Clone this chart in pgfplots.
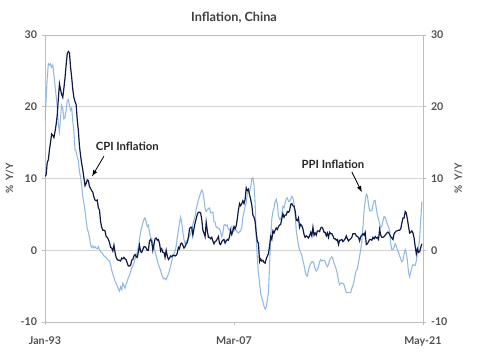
\documentclass[border=0pt]{standalone}
\usepackage{pgfplots}
\usepackage{pgfplotstable}
\pgfplotsset{compat=1.18}
\usepackage{fontspec}
\setmainfont{Lato}
\definecolor{cpicol}{RGB}{16,26,72}
\definecolor{ppicol}{RGB}{145,185,226}
\definecolor{gridgray}{RGB}{210,210,210}
\definecolor{axgray}{RGB}{190,190,190}
\definecolor{labgray}{RGB}{80,80,80}
\definecolor{titgray}{RGB}{64,64,64}

% monthly values from Jan-93; columns: CPI, PPI (% Y/Y)
\pgfplotstableread{
cpi ppi
10.3 18.0
10.5 21.0
12.2 24.0
12.6 26.0
14.0 25.8
15.1 26.0
16.2 25.5
16.0 25.8
15.7 24.5
16.5 23.0
17.5 21.5
18.8 20.0
21.1 17.5
23.2 16.5
22.4 18.5
21.7 20.2
21.3 19.8
22.6 18.3
24.0 18.5
25.8 19.5
27.4 20.8
27.7 21.0
27.5 20.2
25.5 19.5
24.1 19.8
22.4 18.0
21.3 16.5
20.7 14.0
20.3 13.8
18.2 13.0
16.7 12.5
14.5 11.0
13.2 10.2
12.1 9.0
11.2 7.5
10.1 6.5
9.0 5.5
9.3 4.2
9.8 3.0
9.7 2.5
8.9 1.8
8.6 0.8
8.3 0.4
8.1 0.6
7.4 0.3
7.0 0.5
6.9 0.3
7.0 0.2
5.9 0.5
5.6 0.1
4.0 -0.2
3.2 -0.3
2.8 -0.5
2.8 -0.8
2.7 -0.9
1.9 -1.0
1.8 -1.2
1.5 -1.4
1.1 -1.5
0.4 -2.0
0.3 -2.8
-0.1 -3.3
0.7 -3.8
-0.3 -4.3
-1.0 -4.6
-1.3 -5.0
-1.4 -5.4
-1.4 -5.7
-1.5 -5.1
-1.1 -5.5
-1.2 -4.6
-1.0 -4.9
-1.2 -5.3
-1.3 -4.7
-1.8 -4.3
-2.2 -3.8
-2.2 -3.5
-2.1 -3.0
-1.4 -2.5
-1.3 -2.2
-0.8 -1.8
-0.6 -1.2
-0.9 -0.8
-1.0 -0.3
-0.2 0.5
0.7 1.5
-0.2 2.5
-0.3 3.2
0.1 3.8
0.5 4.3
0.5 4.5
0.3 4.0
0.0 3.3
0.0 3.5
1.3 2.5
1.5 1.8
1.2 1.6
0.0 1.0
0.8 0.5
1.6 -0.2
1.7 -0.8
1.4 -1.4
1.5 -2.0
1.0 -2.4
-0.1 -2.8
0.2 -3.4
-0.3 -3.8
-0.3 -4.0
-1.0 -3.9
0.0 -4.1
-0.8 -3.7
-1.3 -3.3
-1.1 -2.8
-0.8 -2.2
-0.9 -1.5
-0.7 -0.9
-0.7 -0.5
-0.8 -0.1
-0.7 0.6
-0.4 1.8
0.4 2.8
0.2 3.8
0.9 4.6
1.0 3.8
0.7 2.5
0.3 1.5
0.5 0.9
0.9 1.3
1.1 1.4
1.8 1.8
3.0 1.9
3.2 2.3
3.2 2.8
2.1 3.6
3.0 4.2
3.8 4.8
4.4 5.7
5.0 6.4
5.3 7.0
5.3 7.5
5.2 8.0
4.3 8.4
2.8 8.1
2.4 7.1
1.9 5.8
3.9 5.4
2.7 5.6
1.8 5.8
1.8 5.9
1.6 5.2
1.8 5.2
1.3 5.3
0.9 4.0
1.2 3.9
1.3 3.2
1.6 3.2
1.9 3.0
0.9 3.0
0.8 2.5
1.2 1.9
1.4 2.4
1.5 3.5
1.0 3.6
1.3 3.4
1.5 3.5
1.4 2.9
1.9 2.8
2.8 3.1
2.2 3.3
2.7 2.6
3.3 2.7
3.0 2.9
3.4 2.8
4.4 2.5
5.6 2.4
6.5 2.6
6.2 2.7
6.5 3.2
6.9 4.6
6.5 5.4
7.1 6.1
8.7 6.6
8.3 8.0
8.5 8.1
7.7 8.2
7.1 8.8
6.3 10.0
4.9 10.1
4.6 9.1
4.0 6.6
2.4 2.0
1.2 -1.1
1.0 -3.3
-1.6 -4.5
-1.2 -6.0
-1.5 -6.6
-1.4 -7.2
-1.7 -7.8
-1.8 -8.2
-1.2 -7.9
-0.8 -7.0
-0.5 -5.8
0.6 -2.1
1.9 1.7
1.5 4.3
2.7 5.4
2.4 5.9
2.8 6.8
3.1 7.1
2.9 6.4
3.3 4.8
3.5 4.3
3.6 4.3
4.4 5.0
5.1 6.1
4.6 5.9
4.9 6.6
4.9 7.2
5.4 7.3
5.3 6.8
5.5 6.8
6.4 7.1
6.5 7.5
6.2 7.3
6.1 6.5
5.5 5.0
4.2 2.7
4.1 1.7
4.5 0.7
3.2 0.0
3.6 -0.3
3.4 -0.7
3.0 -1.4
2.2 -2.1
1.8 -2.9
2.0 -3.5
1.9 -3.6
1.7 -2.8
2.0 -2.2
2.5 -1.9
2.0 -1.6
3.2 -1.6
2.1 -1.9
2.4 -2.6
2.1 -2.9
2.7 -2.7
2.7 -2.3
2.6 -1.6
3.1 -1.3
3.2 -1.5
3.0 -1.4
2.5 -1.4
2.5 -1.6
2.0 -2.0
2.4 -2.3
1.8 -2.0
2.5 -1.4
2.3 -1.1
2.3 -0.9
2.0 -1.2
1.6 -1.8
1.6 -2.2
1.4 -2.7
1.5 -3.3
0.8 -4.3
1.4 -4.8
1.4 -4.6
1.5 -4.6
1.2 -4.6
1.4 -4.8
1.6 -5.4
2.0 -5.9
1.6 -5.9
1.3 -5.9
1.5 -5.9
1.6 -5.9
1.8 -5.3
2.3 -4.9
2.3 -4.3
2.3 -3.4
2.0 -2.8
1.9 -2.6
1.8 -1.7
1.3 -0.8
1.9 0.1
2.1 1.2
2.3 3.3
2.1 5.5
2.5 6.9
0.8 7.8
0.9 7.6
1.2 6.4
1.5 5.5
1.5 5.5
1.4 5.5
1.8 6.3
1.6 6.9
1.9 6.9
1.7 5.8
1.8 4.9
1.5 4.3
2.9 3.7
2.1 3.1
1.8 3.4
1.8 4.1
1.9 4.7
2.1 4.6
2.3 4.1
2.5 3.6
2.5 3.3
2.2 2.7
1.9 0.9
1.7 0.1
1.5 0.1
2.3 0.4
2.5 0.9
2.7 0.6
2.7 0.0
2.8 -0.3
2.8 -0.8
3.0 -1.2
3.8 -1.6
4.5 -1.4
4.5 -0.5
5.4 0.1
5.2 -0.4
4.3 -1.5
3.3 -3.1
2.4 -3.7
2.5 -3.0
2.7 -2.4
2.4 -2.0
1.7 -2.1
0.5 -2.1
-0.5 -1.5
0.2 -0.4
-0.3 0.3
-0.2 1.7
0.4 4.4
0.9 6.8
}\datatable

\begin{document}
\begin{tikzpicture}
\pgfplotsset{
  common/.style={
    at={(0,0)}, anchor=south west,
    scale only axis, width=283.5pt, height=215.25pt,
    xmin=0, xmax=340, ymin=-10, ymax=30,
    ytick={-10,0,10,20,30},
    tick align=outside, major tick length=2.5pt,
    tick style={draw=axgray, line width=0.6pt},
    ticklabel style={font=\fontsize{8}{9}\selectfont\bfseries, text=labgray},
    /pgf/number format/assume math mode=true,
    label style={font=\fontsize{7.5}{9}\selectfont\bfseries, text=labgray},
  }
}
\begin{axis}[common,
  axis line style={draw=axgray, line width=0.6pt},
  xtick={0,170,340}, xticklabels={Jan-93,Mar-07,May-21},
  xticklabel style={yshift=-5pt},
  xtick pos=lower, ytick pos=left,
  ymajorgrids, grid style={draw=gridgray, line width=0.7pt},
  ylabel={\%\ \ Y/Y},
  ylabel style={at={(axis description cs:0,0.5)}, anchor=south, yshift=20pt},
  title={Inflation, China},
  title style={font=\fontsize{9.5}{11}\selectfont\bfseries, text=titgray, yshift=-1pt},
]
\addplot[ppicol, line width=0.8pt] table[x expr=\coordindex, y=ppi] {\datatable};
\addplot[cpicol, line width=0.9pt] table[x expr=\coordindex, y=cpi] {\datatable};
\node[font=\fontsize{8.5}{10}\selectfont\bfseries, text=black!85] at (axis cs:74,14.5) {CPI Inflation};
\draw[-latex, line width=0.6pt] (axis cs:53,13.1) -- (axis cs:42.3,10.3);
\node[font=\fontsize{8.5}{10}\selectfont\bfseries, text=black!85] at (axis cs:259,12.0) {PPI Inflation};
\draw[-latex, line width=0.6pt] (axis cs:276,10.9) -- (axis cs:285,8.1);
\end{axis}
\begin{axis}[common,
  axis x line=none, axis y line*=right,
  axis line style={draw=axgray, line width=0.6pt},
  ylabel={\%\ \ Y/Y},
  ylabel style={at={(axis description cs:1,0.5)}, anchor=north, yshift=-20pt},
]
\end{axis}
\pgfresetboundingbox
\path[use as bounding box] (-33.75pt,-27.75pt) rectangle (326.25pt,241.5pt);
\end{tikzpicture}
\end{document}
